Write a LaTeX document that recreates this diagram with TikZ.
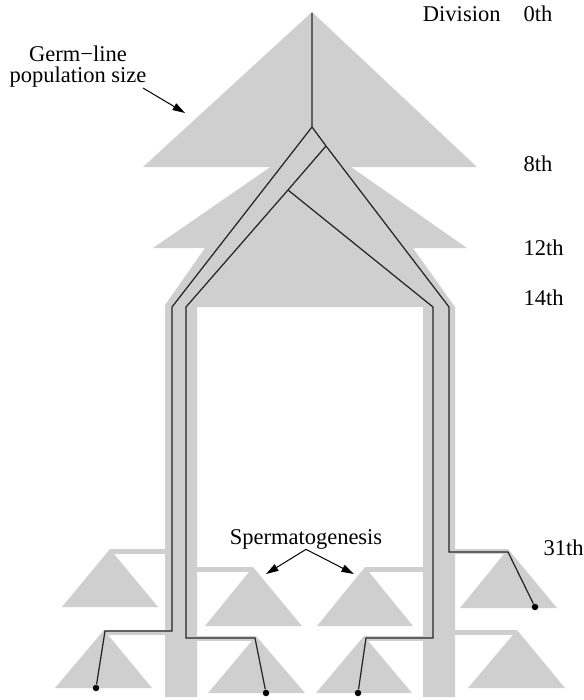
\documentclass[tikz,border=0pt]{standalone}
\usepackage{fontspec}
\setmainfont{Liberation Serif}
\usepackage{xcolor}
\usetikzlibrary{arrows.meta}
\definecolor{germgray}{RGB}{207,207,207}

\begin{document}
\begin{tikzpicture}[x=0.4pt, y=-0.4pt,
  lab/.style={inner sep=0pt, font=\fontsize{9}{8.4}\selectfont, align=center},
  arr/.style={-{Triangle[length=5pt,width=3pt]}, line width=0.4pt},
  lin/.style={line width=0.5pt, color=black!85},
  dot/.style={circle, fill=black, inner sep=0pt, minimum size=2.6pt}]
  \useasboundingbox (0,0) rectangle (584,700);
  % germ-line population
  \fill[germgray] (312,12) -- (477,167) -- (143,167) -- cycle;
  \fill[germgray] (311,139) -- (467,248) -- (153,248) -- cycle;
  \fill[germgray] (205,248) -- (165,305) -- (165,697) -- (197,697) -- (197,307)
    -- (423,307) -- (423,697) -- (455,697) -- (455,307) -- (413,248) -- cycle;
  % spermatogenesis trees
  \fill[germgray] (110,549) rectangle (165,554); \fill[germgray] (110,549) -- (158,607) -- (62,607) -- cycle;
  \fill[germgray] (197,567) rectangle (253,572); \fill[germgray] (253,567) -- (302,626) -- (205,626) -- cycle;
  \fill[germgray] (365,567) rectangle (423,572); \fill[germgray] (365,567) -- (413,626) -- (317,626) -- cycle;
  \fill[germgray] (455,549) rectangle (508,554); \fill[germgray] (508,549) -- (557,608) -- (460,608) -- cycle;
  \fill[germgray] (104,630) rectangle (165,635); \fill[germgray] (104,630) -- (152,688) -- (55,688) -- cycle;
  \fill[germgray] (197,636) rectangle (256,641); \fill[germgray] (256,636) -- (305,693) -- (208,693) -- cycle;
  \fill[germgray] (364,636) rectangle (423,641); \fill[germgray] (364,636) -- (412,693) -- (316,693) -- cycle;
  \fill[germgray] (455,630) rectangle (517,635); \fill[germgray] (517,630) -- (565,688) -- (468,688) -- cycle;
  % lineage
  \coordinate (root) at (312,13);
  \coordinate (b1) at (312,127);
  \coordinate (b2) at (326,146);
  \coordinate (b3) at (288,190);
  \node[dot] (e1) at (96,688) {};
  \node[dot] (e2) at (266,693) {};
  \node[dot] (e3) at (358,693) {};
  \node[dot] (e4) at (535,607) {};
  \draw[lin] (root) -- (b1) -- (172,307) -- (172,631) -- (105,631) -- (e1);
  \draw[lin] (b1) -- (b2) -- (449,307) -- (449,552) -- (508,552) -- (e4);
  \draw[lin] (b2) -- (b3) -- (186,307) -- (186,638) -- (255,638) -- (e2);
  \draw[lin] (b3) -- (433,307) -- (433,638) -- (366,638) -- (e3);
  % labels
  \node[lab, anchor=base east] (div) at (501,21) {Division};
  \node[lab, anchor=base west] (d0) at (523,21) {0th};
  \node[lab, anchor=base west] (d8) at (523,171) {8th};
  \node[lab, anchor=base west] (d12) at (523,255) {12th};
  \node[lab, anchor=base west] (d14) at (523,305) {14th};
  \node[lab, anchor=base west] (d31) at (543,555) {31th};
  \node[lab, anchor=north] (germ) at (78,45) {Germ−line\\population size};
  \node[lab, anchor=base] (sperm) at (306,544) {Spermatogenesis};
  \coordinate (gfrom) at (143,88);
  \coordinate (gtip) at (185,113);
  \coordinate (s1) at (266,574);
  \coordinate (s2) at (354,574);
  \draw[arr] (gfrom) -- (gtip);
  \draw[arr] (sperm.south) -- (s1);
  \draw[arr] (sperm.south) -- (s2);
\end{tikzpicture}
\end{document}
